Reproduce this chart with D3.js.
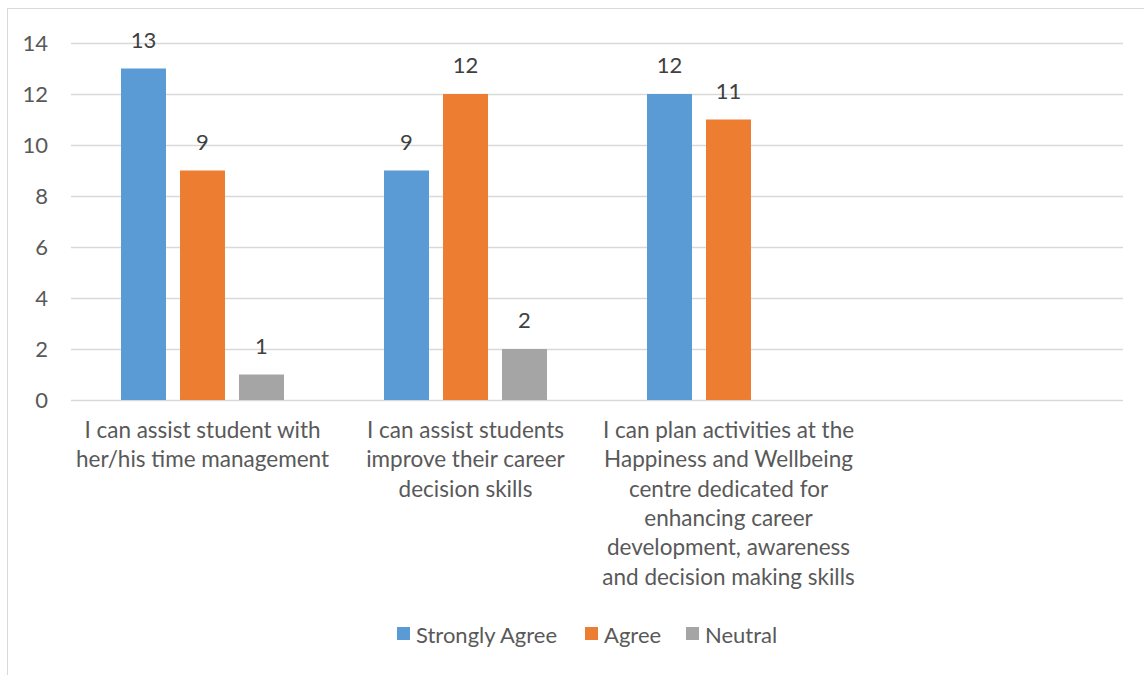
<!DOCTYPE html>
<html>
<head>
<meta charset="utf-8">
<script src="https://cdn.jsdelivr.net/npm/d3@7"></script>
<style>
  html, body { margin: 0; padding: 0; background: #fff; }
  svg { display: block; font-family: Lato, "Noto Sans", sans-serif; }
</style>
</head>
<body>
<svg id="chart" width="1144" height="675"></svg>
<script>
// Survey statements (last slot is an empty category on the axis)
const categories = [
  "I can assist student with\nher/his time management",
  "I can assist students\nimprove their career\ndecision skills",
  "I can plan activities at the\nHappiness and Wellbeing\ncentre dedicated for\nenhancing career\ndevelopment, awareness\nand decision making skills",
  ""
];
const seriesNames = ["Strongly Agree", "Agree", "Neutral"];
const strongly = [13, 9, 12, null];
const agree = [9, 12, 11, null];
const neutral = [1, 2, null, null];
const yTicks = [0, 2, 4, 6, 8, 10, 12, 14];
const colors = ["#5b9bd5", "#ed7d31", "#a5a5a5"];

const series = [strongly, agree, neutral];

const svg = d3.select("#chart");
const margin = { left: 71, right: 21, top: 43, bottom: 275 };
const W = 1144, H = 675;
const plotW = W - margin.left - margin.right;
const plotH = H - margin.top - margin.bottom;

// chart border
svg.append("rect")
  .attr("x", 7.5).attr("y", 8.5)
  .attr("width", 1160).attr("height", 700)
  .attr("fill", "none").attr("stroke", "#d9d9d9").attr("stroke-width", 1);

const g = svg.append("g").attr("transform", `translate(${margin.left},${margin.top})`);

const x = d3.scaleBand().domain(d3.range(categories.length)).range([0, plotW]);
const y = d3.scaleLinear().domain([0, 14]).range([plotH, 0]);

const barW = 45, barGap = 14;
const groupW = barW * 3 + barGap * 2;
const xs = d3.scaleBand().domain(d3.range(3)).range([0, groupW]).paddingInner(barGap / (barW + barGap));

// gridlines
g.append("g").selectAll("line").data(yTicks).join("line")
  .attr("x1", 0).attr("x2", plotW)
  .attr("y1", d => Math.round(y(d)) + 0.5).attr("y2", d => Math.round(y(d)) + 0.5)
  .attr("stroke", "#d9d9d9").attr("stroke-width", 1.5);

// y axis labels
const yAxis = d3.axisLeft(y).tickValues(yTicks).tickSize(0).tickPadding(23);
const ya = g.append("g").call(yAxis);
ya.select(".domain").remove();
ya.selectAll("text").attr("fill", "#595959").style("font-size", "22px").style("font-family", "Lato, sans-serif");

// bars
const groups = g.append("g").selectAll("g").data(categories).join("g")
  .attr("transform", (d, i) => `translate(${x(i) + (x.bandwidth() - groupW) / 2},0)`);

groups.each(function (c, ci) {
  const sel = d3.select(this);
  const vals = series.map((s, si) => ({ si, v: s[ci] })).filter(d => d.v != null);
  sel.selectAll("rect").data(vals).join("rect")
    .attr("x", d => xs(d.si)).attr("width", xs.bandwidth())
    .attr("y", d => y(d.v)).attr("height", d => plotH - y(d.v))
    .attr("fill", d => colors[d.si]);
  sel.selectAll("text.val").data(vals).join("text")
    .attr("class", "val")
    .attr("x", d => xs(d.si) + xs.bandwidth() / 2)
    .attr("y", d => y(d.v) - 21)
    .attr("text-anchor", "middle")
    .attr("fill", "#404040")
    .style("font-size", "22px")
    .text(d => d.v);
});

// category labels
const xl = g.append("g").selectAll("text").data(categories).join("text")
  .attr("text-anchor", "middle")
  .attr("fill", "#595959")
  .style("font-size", "22.5px")
  .attr("transform", (d, i) => `translate(${x(i) + x.bandwidth() / 2},${plotH + 38})`);
xl.each(function (d) {
  d3.select(this).selectAll("tspan").data(d ? d.split("\n") : []).join("tspan")
    .attr("x", 0).attr("dy", (t, j) => j === 0 ? 0 : 29.3).text(t => t);
});

// legend
const legend = svg.append("g").attr("transform", "translate(397,627)");
const legendX = [0, 188, 289];
seriesNames.forEach((name, i) => {
  const lg = legend.append("g").attr("transform", `translate(${legendX[i]},0)`);
  lg.append("rect").attr("width", 13).attr("height", 13).attr("fill", colors[i]);
  lg.append("text").attr("x", 19).attr("y", 16).attr("fill", "#595959")
    .style("font-size", "22px").text(name);
});
</script>
</body>
</html>
